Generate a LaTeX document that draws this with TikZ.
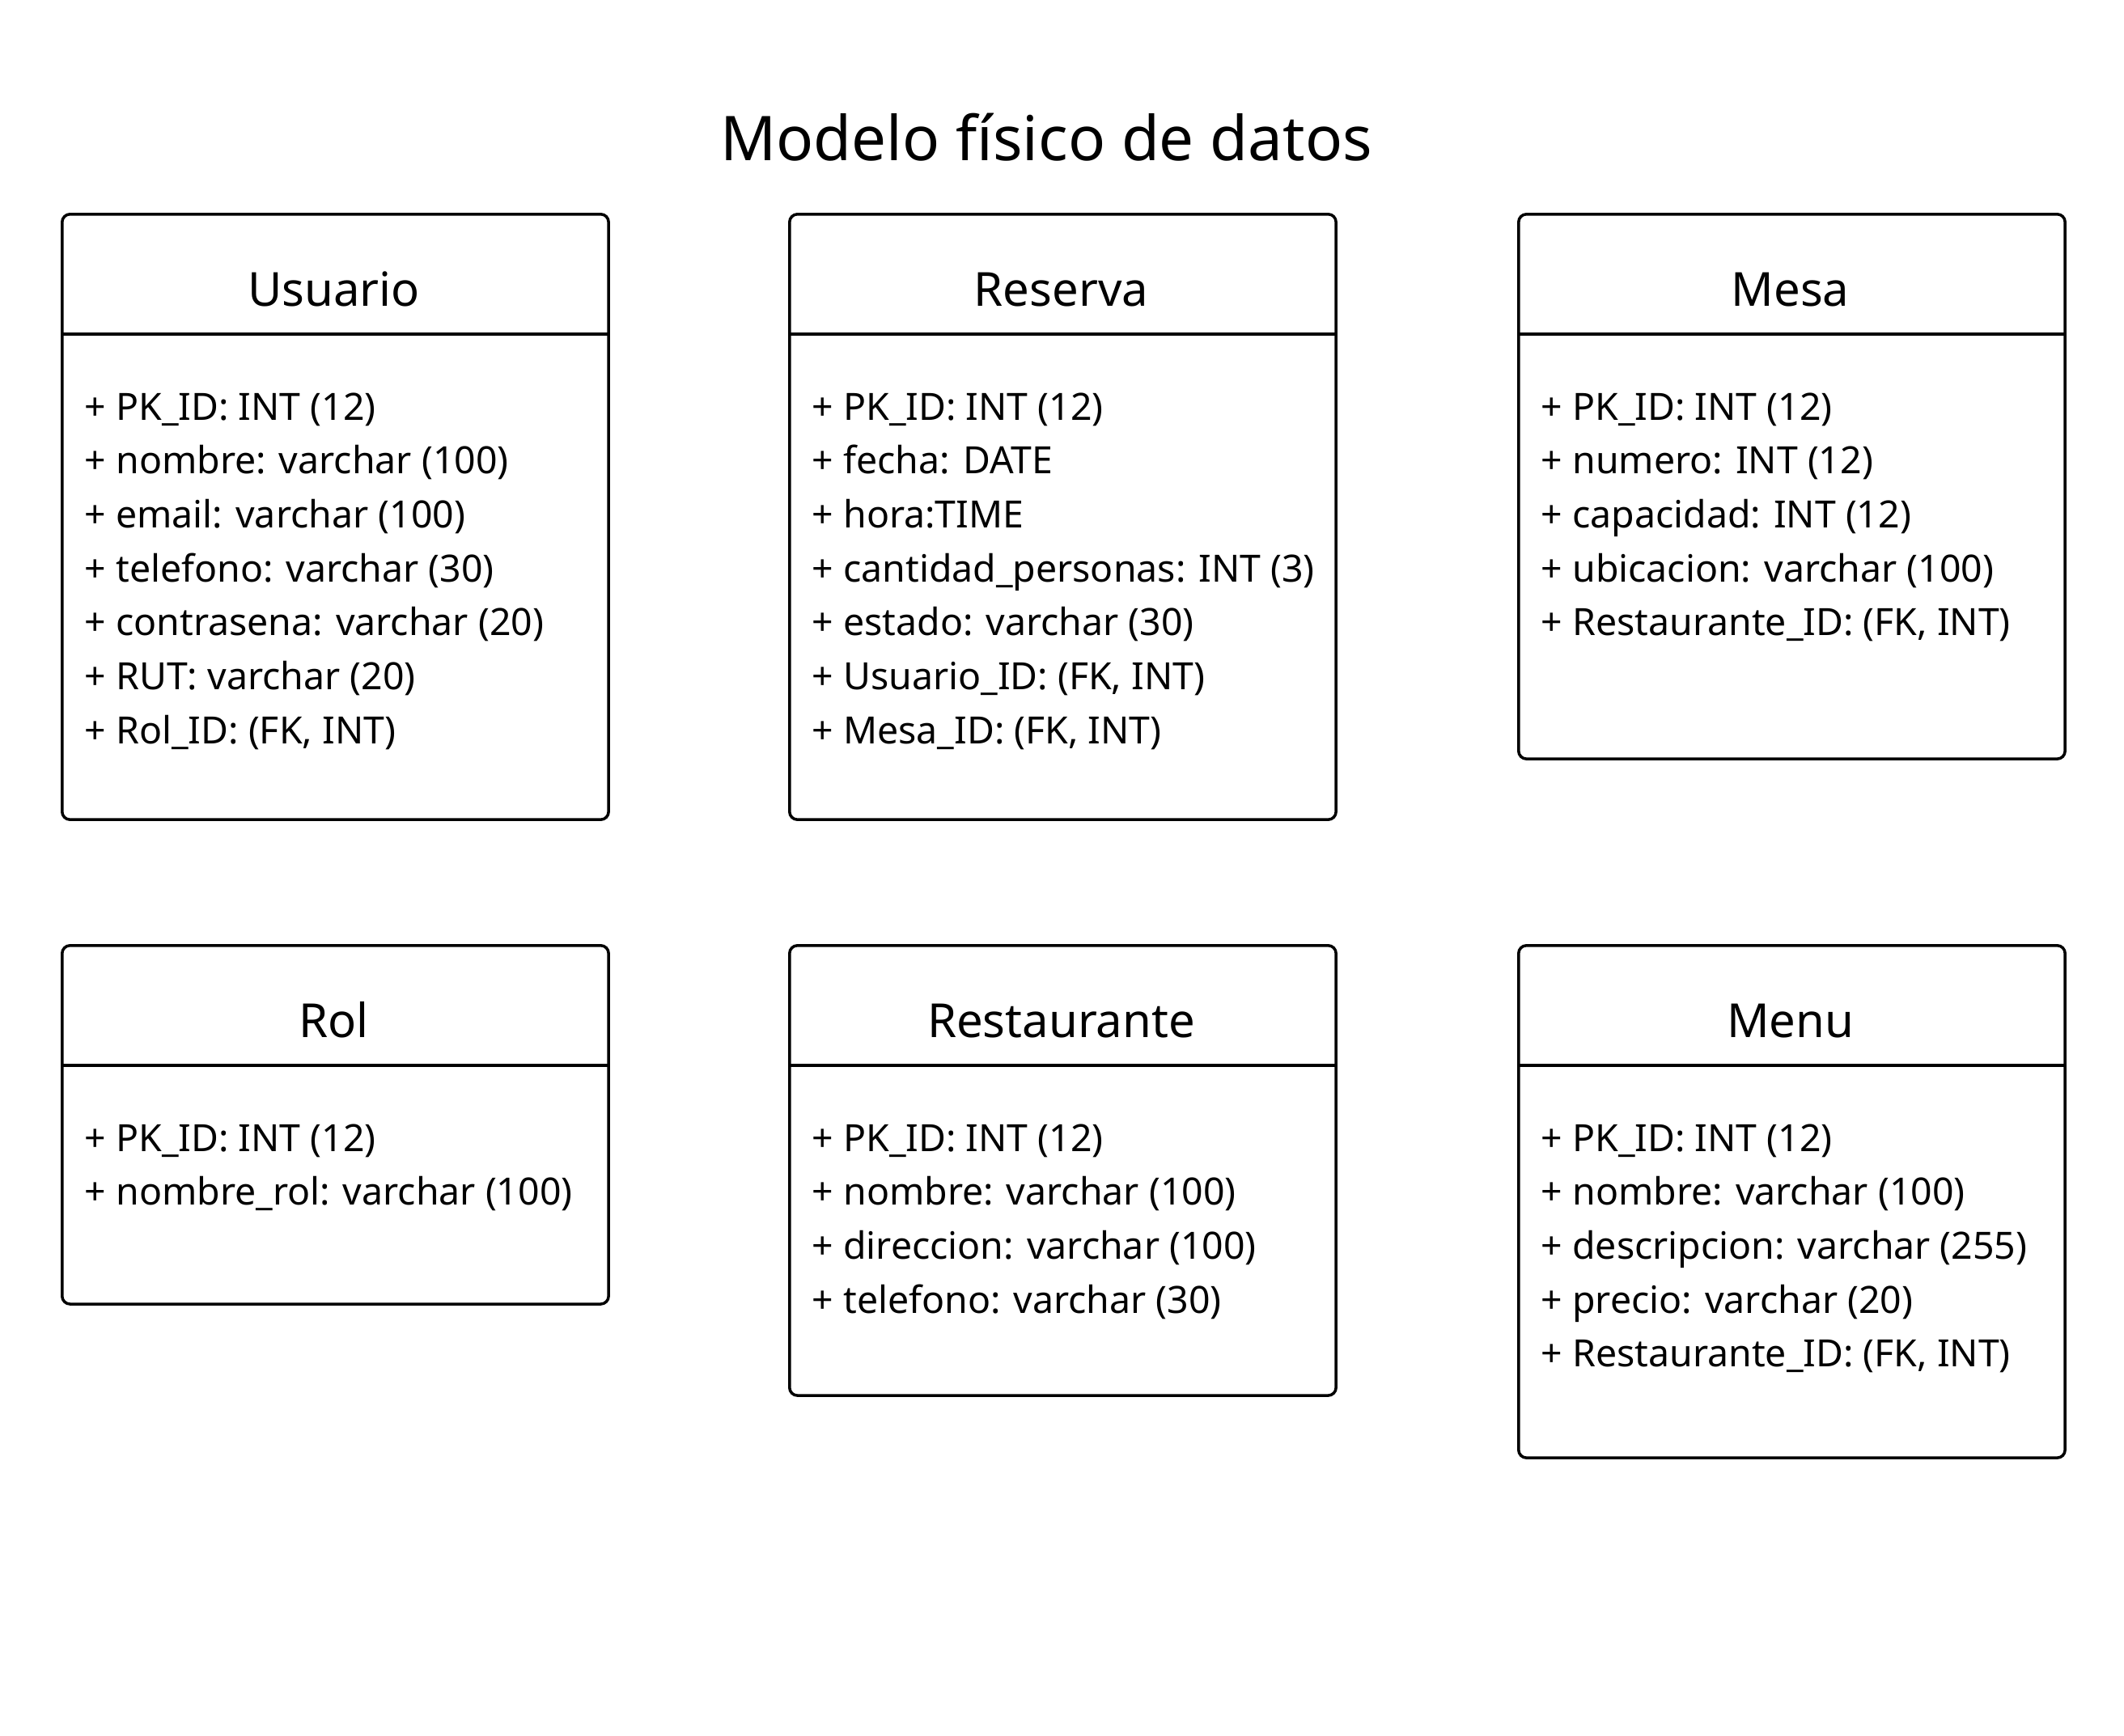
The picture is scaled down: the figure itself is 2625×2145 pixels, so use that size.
\documentclass[tikz,border=0pt]{standalone}
\usepackage{fontspec}
\setmainfont{Noto Sans}
\usepackage{tikz}

\tikzset{
  entity/.style={draw, line width=1pt, rounded corners=2.8pt, anchor=north west,
    minimum width=6.75cm, inner sep=0pt},
  divider/.style={line width=1pt},
  head/.style={anchor=base, inner sep=0pt, font=\fontsize{16.5pt}{20pt}\selectfont},
  field/.style={anchor=base west, inner sep=0pt, font=\fontsize{13.2pt}{16pt}\selectfont},
  title/.style={anchor=base, inner sep=0pt, font=\fontsize{21.7pt}{26pt}\selectfont}
}

\begin{document}
\begin{tikzpicture}[x=0.01cm, y=-0.01cm]

\fill[white] (0,0) rectangle (2625,2145);
\useasboundingbox (0,0) rectangle (2625,2145);

%%    TITLE    %%
\node[title] (titulo) at (1293,198) {Modelo físico de datos};

%%    USUARIO    %%
\node[entity, minimum height=7.48cm] (usuario) at (75,263) {};
\draw[divider] ([yshift=-1.5cm]usuario.north west) -- ([yshift=-1.5cm]usuario.north east);
\node[head] (usuario-head) at (412.5,378) {Usuario};
\foreach \f [count=\i] in {{+ PK\_ID: INT (12)}, {+ nombre: varchar (100)},
    {+ email: varchar (100)}, {+ telefono: varchar (30)}, {+ contrasena: varchar (20)},
    {+ RUT: varchar (20)}, {+ Rol\_ID: (FK, INT)}}
  \node[field] (usuario-\i) at (104,{519+(\i-1)*66.7}) {\f};

%%    RESERVA    %%
\node[entity, minimum height=7.48cm] (reserva) at (974,263) {};
\draw[divider] ([yshift=-1.5cm]reserva.north west) -- ([yshift=-1.5cm]reserva.north east);
\node[head] (reserva-head) at (1311.5,378) {Reserva};
\foreach \f [count=\i] in {{+ PK\_ID: INT (12)}, {+ fecha: DATE}, {+ hora:TIME},
    {+ cantidad\_personas: INT (3)}, {+ estado: varchar (30)},
    {+ Usuario\_ID: (FK, INT)}, {+ Mesa\_ID: (FK, INT)}}
  \node[field] (reserva-\i) at (1003,{519+(\i-1)*66.7}) {\f};

%%    MESA    %%
\node[entity, minimum height=6.73cm] (mesa) at (1875,263) {};
\draw[divider] ([yshift=-1.5cm]mesa.north west) -- ([yshift=-1.5cm]mesa.north east);
\node[head] (mesa-head) at (2212.5,378) {Mesa};
\foreach \f [count=\i] in {{+ PK\_ID: INT (12)}, {+ numero: INT (12)},
    {+ capacidad: INT (12)}, {+ ubicacion: varchar (100)},
    {+ Restaurante\_ID: (FK, INT)}}
  \node[field] (mesa-\i) at (1904,{519+(\i-1)*66.7}) {\f};

%%    ROL    %%
\node[entity, minimum height=4.43cm] (rol) at (75,1167) {};
\draw[divider] ([yshift=-1.5cm]rol.north west) -- ([yshift=-1.5cm]rol.north east);
\node[head] (rol-head) at (412.5,1282) {Rol};
\foreach \f [count=\i] in {{+ PK\_ID: INT (12)}, {+ nombre\_rol: varchar (100)}}
  \node[field] (rol-\i) at (104,{1423+(\i-1)*66.7}) {\f};

%%    RESTAURANTE    %%
\node[entity, minimum height=5.56cm] (restaurante) at (974,1167) {};
\draw[divider] ([yshift=-1.5cm]restaurante.north west) -- ([yshift=-1.5cm]restaurante.north east);
\node[head] (restaurante-head) at (1311.5,1282) {Restaurante};
\foreach \f [count=\i] in {{+ PK\_ID: INT (12)}, {+ nombre: varchar (100)},
    {+ direccion: varchar (100)}, {+ telefono: varchar (30)}}
  \node[field] (restaurante-\i) at (1003,{1423+(\i-1)*66.7}) {\f};

%%    MENU    %%
\node[entity, minimum height=6.33cm] (menu) at (1875,1167) {};
\draw[divider] ([yshift=-1.5cm]menu.north west) -- ([yshift=-1.5cm]menu.north east);
\node[head] (menu-head) at (2212.5,1282) {Menu};
\foreach \f [count=\i] in {{+ PK\_ID: INT (12)}, {+ nombre: varchar (100)},
    {+ descripcion: varchar (255)}, {+ precio: varchar (20)},
    {+ Restaurante\_ID: (FK, INT)}}
  \node[field] (menu-\i) at (1904,{1423+(\i-1)*66.7}) {\f};

\end{tikzpicture}
\end{document}
